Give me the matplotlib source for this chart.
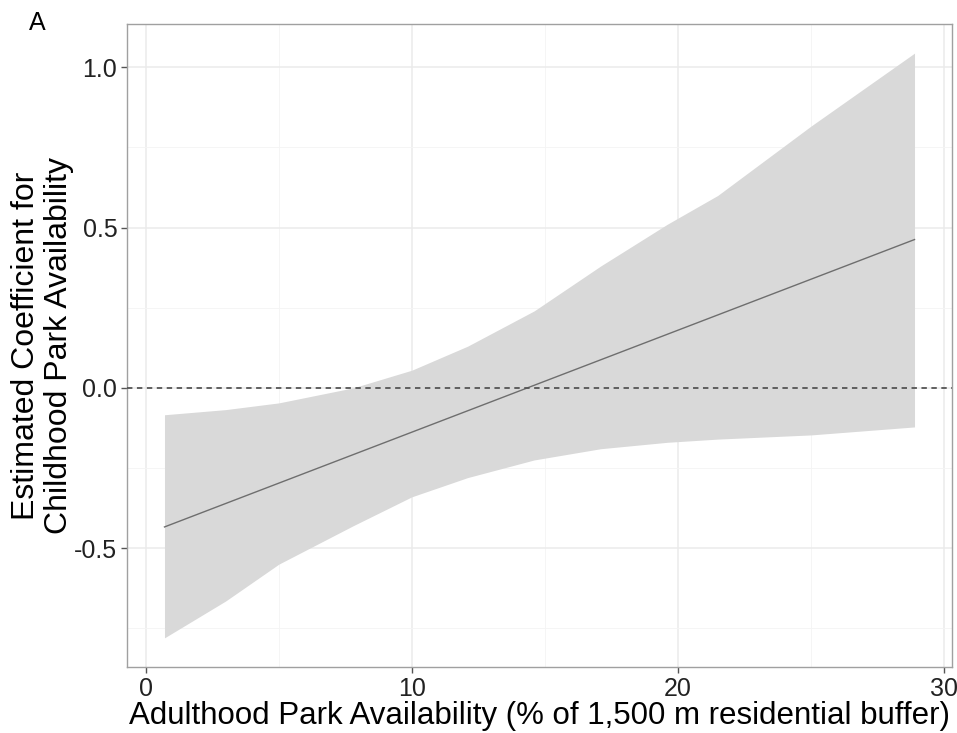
import numpy as np
import matplotlib
matplotlib.use("Agg")
import matplotlib.pyplot as plt
from matplotlib.ticker import MultipleLocator

plt.rcParams['font.family'] = ['Liberation Sans', 'DejaVu Sans']

# values
x_vals = [0.7, 3.0, 5.0, 7.8, 10.0, 12.1, 14.6, 17.1, 19.6, 21.5, 25.0, 28.9]
upper = [-0.084, -0.068, -0.047, 0.0, 0.055, 0.13, 0.24, 0.38, 0.51, 0.60, 0.816, 1.044]
lower = [-0.78, -0.665, -0.55, -0.43, -0.34, -0.28, -0.225, -0.19, -0.17, -0.16, -0.147, -0.122]
line_x = [0.7, 28.9]
line_est = [-0.434, 0.4625]

xticks = [0, 10, 20, 30]
yticks = [-0.5, 0.0, 0.5, 1.0]
ytick_labels = ['-0.5', '0.0', '0.5', '1.0']

fig = plt.figure(figsize=(9.57, 7.33), dpi=100)
ax = fig.add_axes([0.1327, 0.0900, 0.8621, 0.8773])

ax.fill_between(x_vals, lower, upper, color='#d9d9d9', lw=0, zorder=2)
ax.plot(line_x, line_est, color='#6e6e6e', lw=1.0, zorder=3)
ax.axhline(0, color='#555555', lw=1.3, ls=(0, (3, 2.5)), zorder=4)

ax.set_xlim(-0.71, 30.31)
ax.set_ylim(-0.871, 1.135)
ax.set_xticks(xticks)
ax.set_yticks(yticks)
ax.set_yticklabels(ytick_labels)
ax.xaxis.set_minor_locator(MultipleLocator(5))
ax.yaxis.set_minor_locator(MultipleLocator(0.25))

ax.grid(which='major', color='#ebebeb', lw=1.1, zorder=0)
ax.grid(which='minor', color='#f4f4f4', lw=0.6, zorder=0)
ax.set_axisbelow(True)

for s in ax.spines.values():
    s.set_color('#a0a0a0')
    s.set_linewidth(1.0)

ax.tick_params(which='major', length=4, width=1, color='#555555',
               labelsize=18, labelcolor='#222222', pad=3)
ax.tick_params(which='minor', length=0)

ax.set_xlabel('Adulthood Park Availability (% of 1,500 m residential buffer)',
              fontsize=22.5, labelpad=0, color='black')
ax.set_ylabel('Estimated Coefficient for\nChildhood Park Availability',
              fontsize=23, labelpad=0, color='black', linespacing=1.15)

fig.text(0.030, 0.9686, 'A', fontsize=18, va='center', ha='left')

fig.savefig('out.png', dpi=100)
